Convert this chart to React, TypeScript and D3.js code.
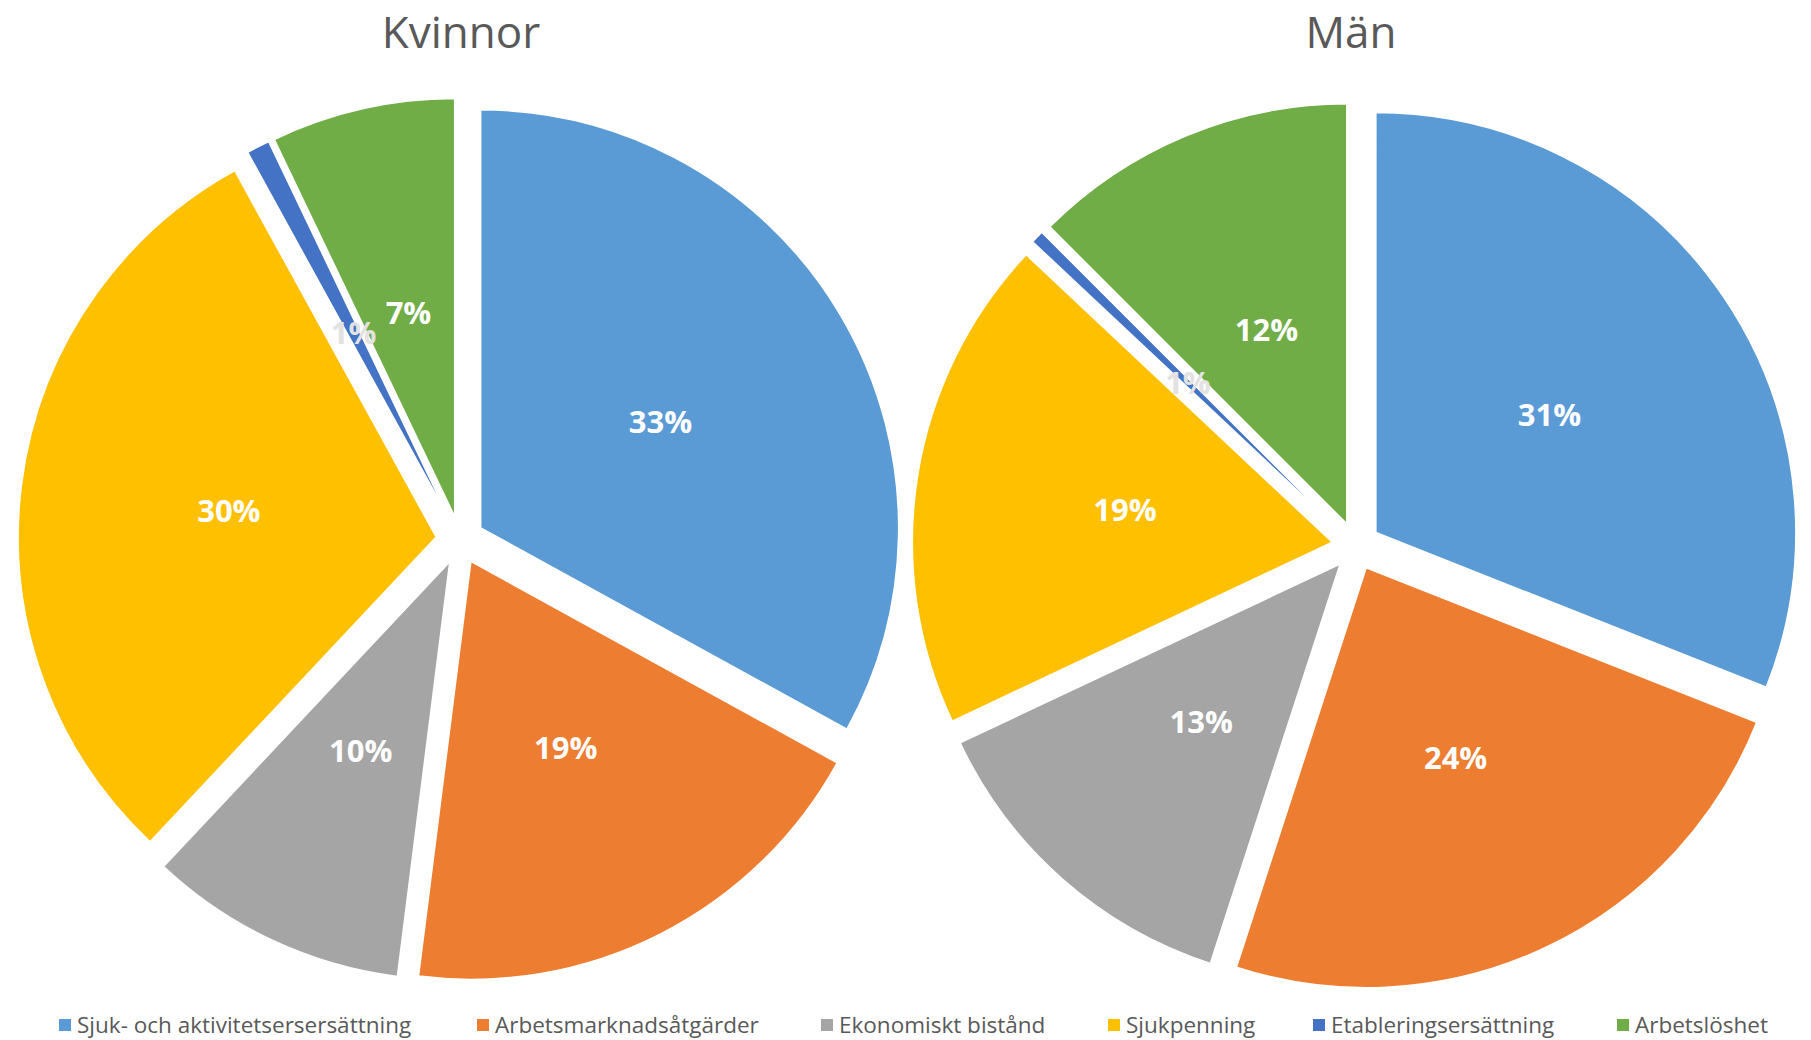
import React from "react";
import * as d3 from "d3";

const categories = [
  "Sjuk- och aktivitetsersersättning",
  "Arbetsmarknadsåtgärder",
  "Ekonomiskt bistånd",
  "Sjukpenning",
  "Etableringsersättning",
  "Arbetslöshet",
];
const colors = ["#5B9BD5", "#ED7D31", "#A5A5A5", "#FFC000", "#4472C4", "#70AD47"];
const kvinnorValues = [33, 19, 10, 30, 0.9, 7.1];
const manValues = [31, 24, 13, 19, 0.5, 12.5];
const kvinnorLabels = ["33%", "19%", "10%", "30%", "1%", "7%"];
const manLabels = ["31%", "24%", "13%", "19%", "1%", "12%"];
const titles = ["Kvinnor", "Män"];

const pies = [
  { title: titles[0], values: kvinnorValues, labels: kvinnorLabels, cx: 460, cy: 540, r: 418, tx: 461 },
  { title: titles[1], values: manValues, labels: manLabels, cx: 1356, cy: 546, r: 420, tx: 1351 },
];
const legendX = [59, 477, 821, 1108, 1313, 1617];
const EXPLODE = 24;

const FONT = "'Open Sans', 'Noto Sans', sans-serif";

function Pie({ p }: { p: typeof pies[number] }) {
  const pieGen = d3
    .pie<number>()
    .sort(null)
    .value((v) => v)
    .startAngle(0)
    .endAngle(2 * Math.PI);
  const arcs = pieGen(p.values);
  const arcGen = d3.arc<d3.PieArcDatum<number>>().innerRadius(0).outerRadius(p.r);
  return (
    <g>
      <text
        x={p.tx}
        y={48}
        textAnchor="middle"
        fontFamily={FONT}
        fontSize={44}
        fill="#595959"
      >
        {p.title}
      </text>
      <g transform={`translate(${p.cx},${p.cy})`}>
        {arcs.map((a, i) => {
          const mid = (a.startAngle + a.endAngle) / 2;
          const ox = EXPLODE * Math.sin(mid);
          const oy = -EXPLODE * Math.cos(mid);
          return (
            <path
              key={i}
              d={arcGen(a) || ""}
              transform={`translate(${ox},${oy})`}
              fill={colors[i]}
              stroke="#ffffff"
              strokeWidth={1.5}
              strokeLinejoin="round"
            />
          );
        })}
        {arcs.map((a, i) => {
          const mid = (a.startAngle + a.endAngle) / 2;
          const L = EXPLODE + p.r * 0.5;
          const lx = L * Math.sin(mid);
          const ly = -L * Math.cos(mid);
          const small = a.value < 2;
          return (
            <text
              key={"l" + i}
              x={lx}
              y={ly}
              dy="0.36em"
              textAnchor="middle"
              fontFamily={FONT}
              fontWeight="bold"
              fontSize={31}
              fill={small ? "#e2e2e2" : "#ffffff"}
            >
              {p.labels[i]}
            </text>
          );
        })}
      </g>
    </g>
  );
}

export default function App() {
  return (
    <svg
      width={1811}
      height={1040}
      style={{ position: "absolute", left: 0, top: 0, background: "#ffffff" }}
    >
      <rect x={0} y={0} width={1811} height={1040} fill="#ffffff" />
      {pies.map((p, i) => (
        <Pie key={i} p={p} />
      ))}
      <g>
        {categories.map((c, i) => (
          <g key={c} transform={`translate(${legendX[i]},1025)`}>
            <rect x={0} y={-6} width={12} height={12} fill={colors[i]} />
            <text
              x={18}
              y={0}
              dy="0.35em"
              fontFamily={FONT}
              fontSize={22.5}
              fill="#595959"
            >
              {c}
            </text>
          </g>
        ))}
      </g>
    </svg>
  );
}
